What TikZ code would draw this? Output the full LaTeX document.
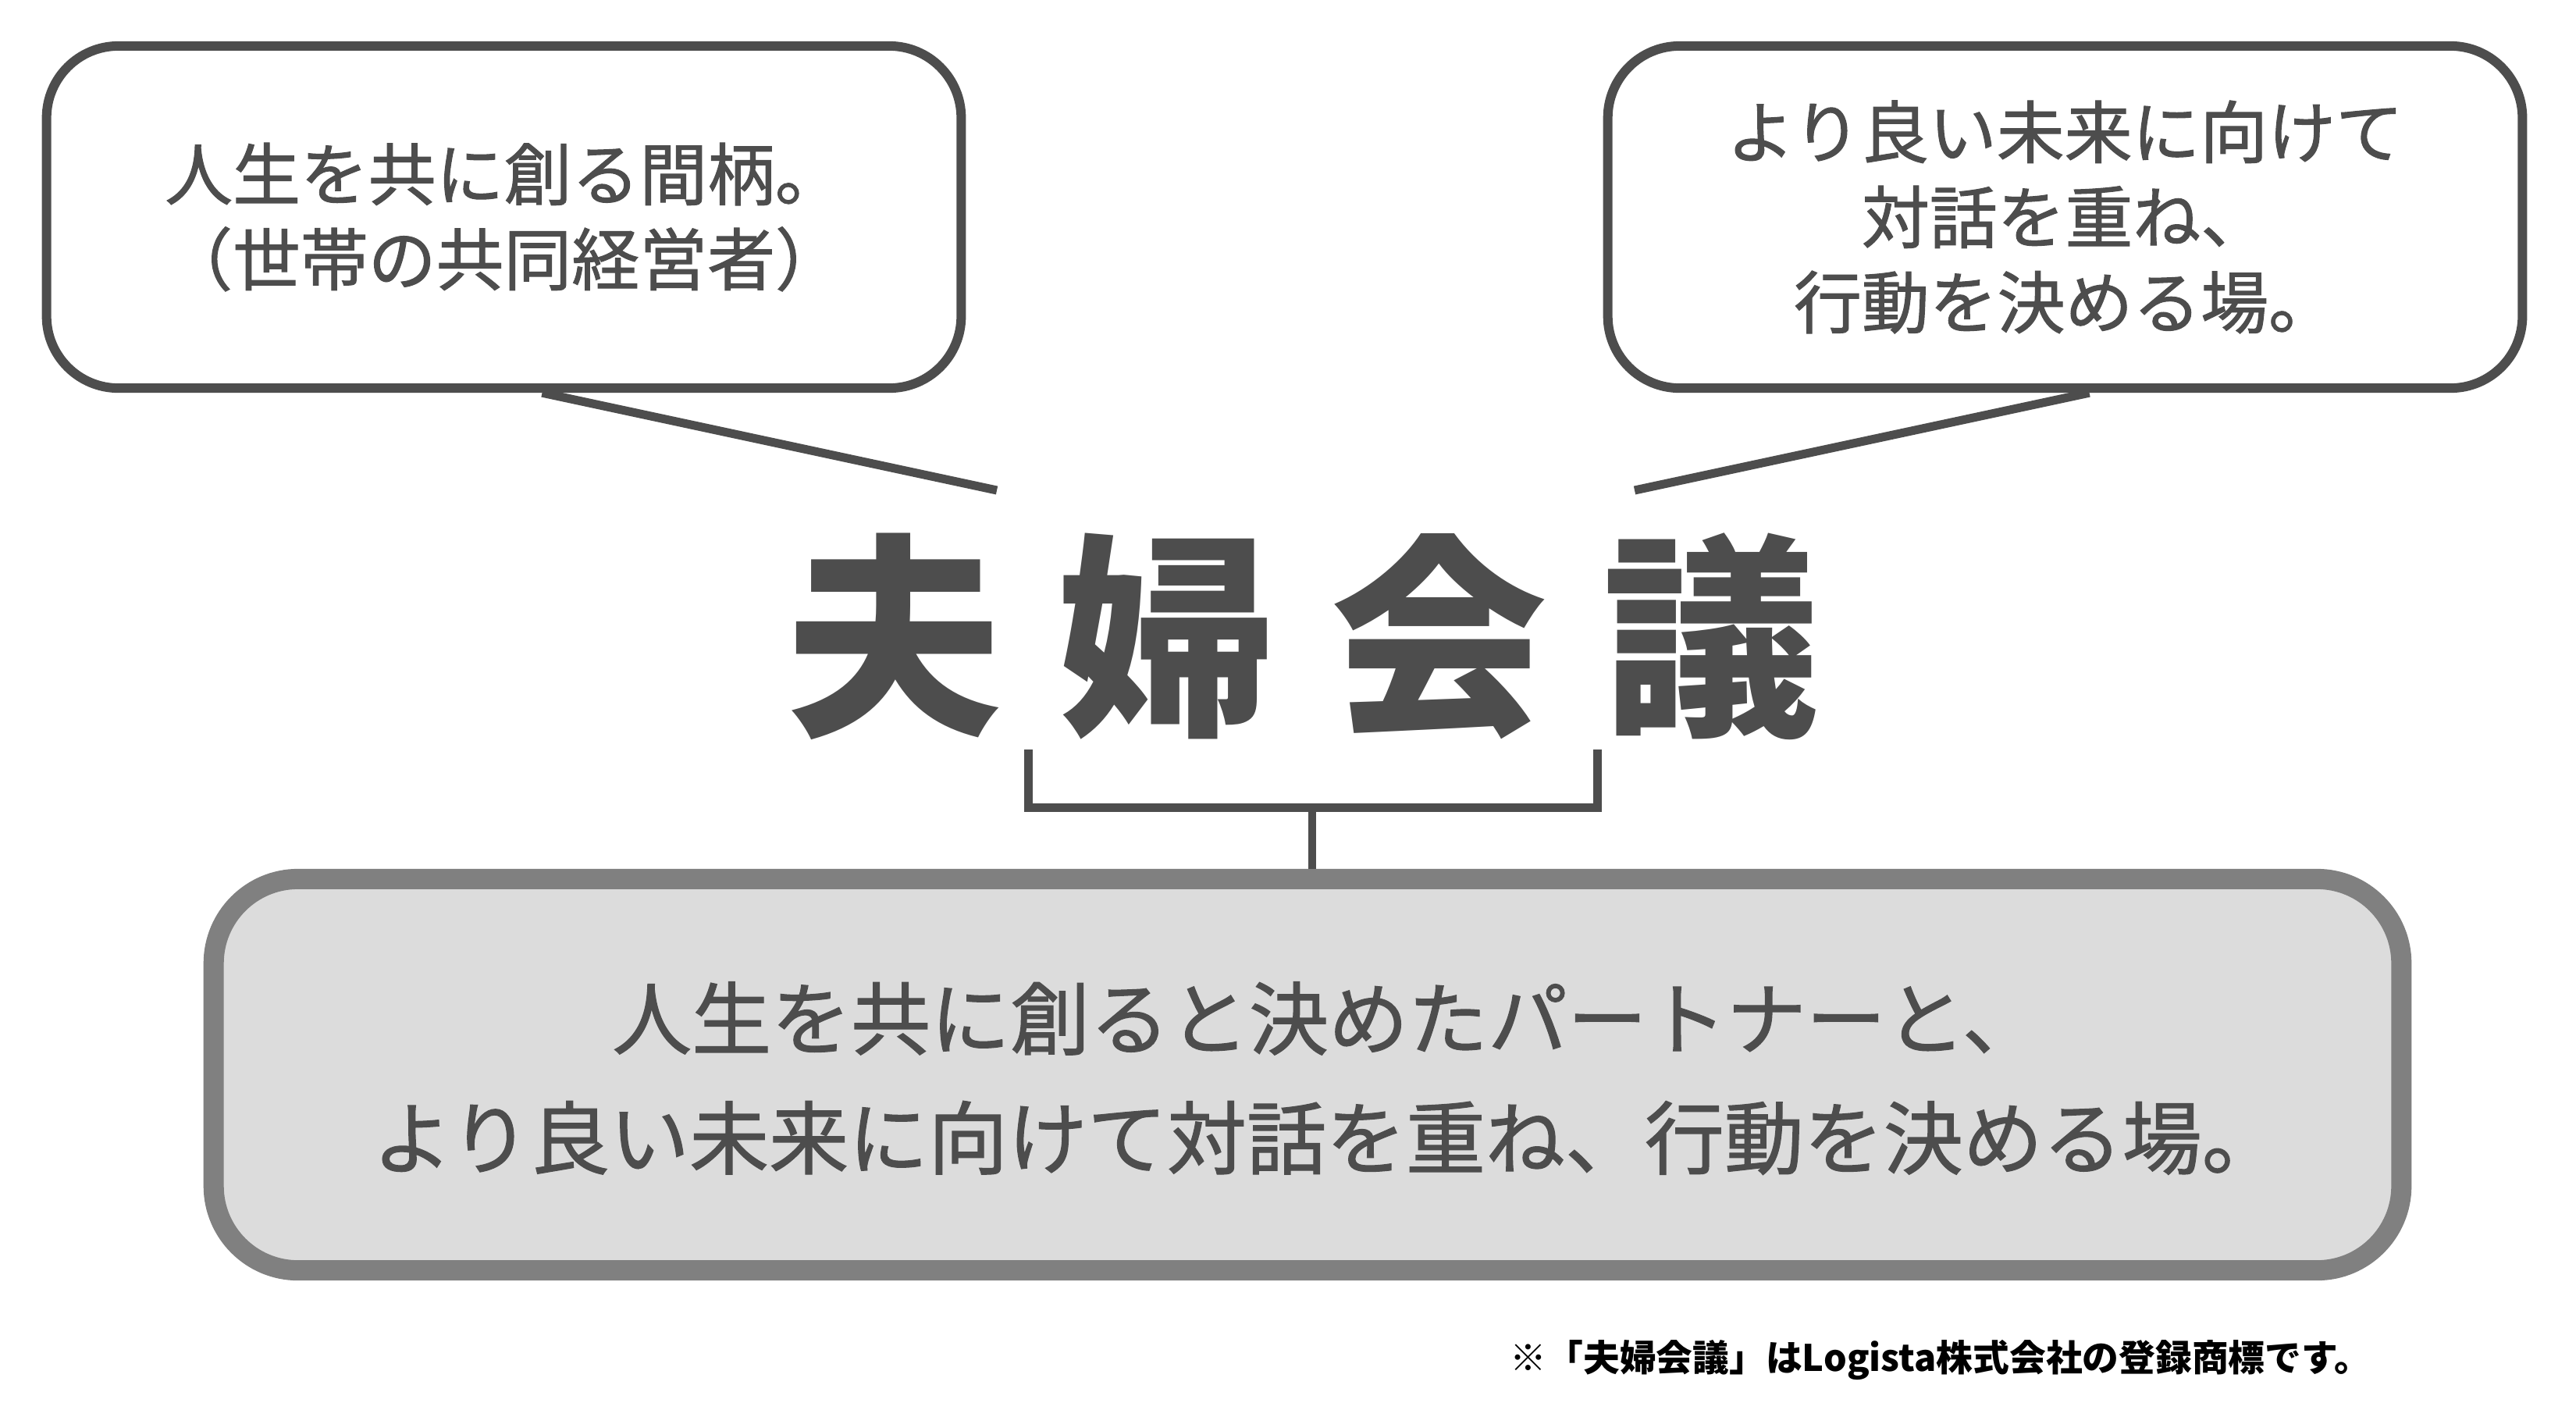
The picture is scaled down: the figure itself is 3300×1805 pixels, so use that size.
\documentclass[tikz,border=0pt]{standalone}
\usepackage{fontspec}
\setmainfont{Noto Sans CJK JP}
\newfontfamily\jpmed{Noto Sans CJK JP}[FakeBold=1.2]
\usetikzlibrary{calc}
\definecolor{ink}{HTML}{4D4D4D}
\definecolor{boxline}{HTML}{808080}
\definecolor{boxfill}{HTML}{DCDCDC}
\begin{document}
\begin{tikzpicture}[x=0.01cm,y=-0.01cm,
  topbox/.style={draw=ink, line width=0.12cm, rounded corners=0.92cm, fill=white,
    minimum width=11.71cm, minimum height=4.38cm, align=center, text=ink,
    font=\jpmed\fontsize{24.7pt}{31pt}\selectfont, inner sep=0pt},
  mainbox/.style={draw=boxline, line width=0.26cm, rounded corners=1.08cm, fill=boxfill,
    minimum width=28.01cm, minimum height=5.01cm, inner sep=0pt},
  maintext/.style={align=center, text=ink,
    font=\jpmed\fontsize{29pt}{43.5pt}\selectfont, inner sep=0pt},
  link/.style={draw=ink, line width=0.11cm},
]
\useasboundingbox (0,0) rectangle (3300,1805);
\fill[white] (0,0) rectangle (3300,1805);

\node[topbox] (lbox) at (645.5,278) {人生を共に創る間柄。\\（世帯の共同経営者）};
\node[topbox] (rbox) at (2645.5,278) {より良い未来に向けて\\対話を重ね、\\行動を決める場。};

\node[text=ink, font=\fontsize{79pt}{79pt}\selectfont\bfseries, inner sep=0pt] (title) at (1669,815)
  {夫\kern0.71cm 婦\kern0.71cm 会\kern0.71cm 議};

\coordinate (ltip) at (1277,628);
\coordinate (rtip) at (2094,628);
\draw[link] ([xshift=0.49cm]lbox.south) -- (ltip);
\draw[link] ([xshift=0.31cm]rbox.south) -- (rtip);

\node[mainbox] (mbox) at (1675,1376.5) {};
\node[maintext] (mtext) at (1700,1381) {人生を共に創ると決めたパートナーと、\\より良い未来に向けて対話を重ね、行動を決める場。};

\coordinate (brL) at (1317,960);
\coordinate (brR) at (2046,960);
\coordinate (brM) at (1681,1034);
\draw[link, line join=miter] (brL) |- (brM) -| (brR);
\draw[link, line width=0.1cm] (mbox.north -| brM) -- (brM);

\node[text=black, font=\fontsize{13.3pt}{14pt}\selectfont\bfseries, inner sep=0pt] (note) at (2486,1742)
  {※「夫婦会議」はLogista株式会社の登録商標です。};
\end{tikzpicture}
\end{document}
